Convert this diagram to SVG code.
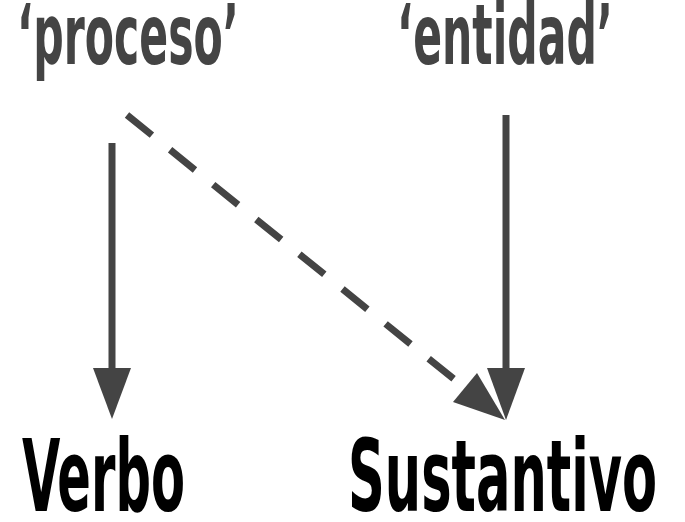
<svg xmlns="http://www.w3.org/2000/svg" width="685" height="522" viewBox="0 0 685 522">
<style>
.top{font-family:"DejaVu Sans Condensed","DejaVu Sans",sans-serif;font-stretch:condensed;font-size:84px;font-weight:bold;fill:#444444}
.bot{font-family:"DejaVu Sans Condensed","DejaVu Sans",sans-serif;font-stretch:condensed;font-size:100px;font-weight:bold;fill:#000000}
.ln{stroke:#444444;stroke-width:7;fill:none}
.hd{fill:#444444}
</style>
<rect width="685" height="522" fill="#ffffff"/>
<g id="proceso"><text class="top" x="17" y="64" textLength="222" lengthAdjust="spacingAndGlyphs">‘proceso’</text></g>
<g id="entidad"><text class="top" x="397" y="64" textLength="216" lengthAdjust="spacingAndGlyphs">‘entidad’</text></g>
<g id="verbo"><text class="bot" x="22" y="511" textLength="163" lengthAdjust="spacingAndGlyphs">Verbo</text></g>
<g id="sustantivo"><text class="bot" x="348" y="511" textLength="309" lengthAdjust="spacingAndGlyphs">Sustantivo</text></g>
<g id="connectors">
<line class="ln" x1="112" y1="143" x2="112" y2="370"/>
<polygon class="hd" points="93,368 131,368 112,419"/>
<line class="ln" x1="506" y1="115" x2="506" y2="370"/>
<polygon class="hd" points="487,368 525,368 506,420"/>
<line class="ln" x1="127" y1="115" x2="465" y2="388" stroke-dasharray="32 23.4"/>
<polygon class="hd" points="505,420 477,373 453,402"/>
</g>
</svg>
